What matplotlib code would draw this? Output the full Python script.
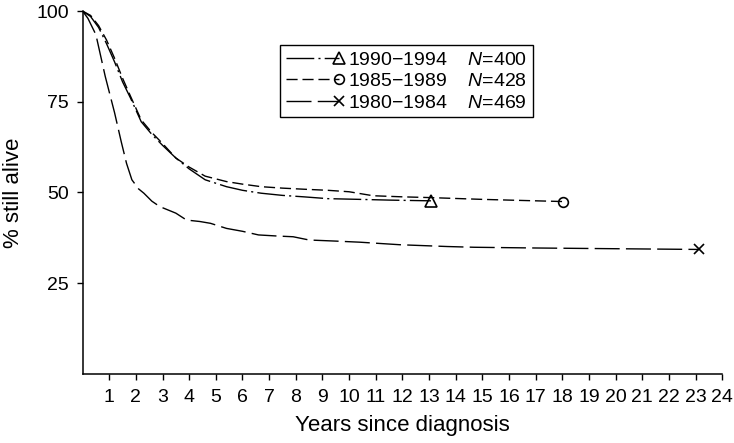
import matplotlib
matplotlib.use("Agg")
import matplotlib.pyplot as plt
from matplotlib.lines import Line2D
from matplotlib.legend_handler import HandlerLine2D

plt.rcParams['font.family'] = ['Liberation Sans', 'DejaVu Sans']
plt.rcParams['mathtext.fontset'] = 'custom'
plt.rcParams['mathtext.rm'] = 'Liberation Sans'
plt.rcParams['mathtext.it'] = 'Liberation Sans:italic'

# survival curves (years, % still alive)
t_9094 = [0, 0.3, 0.6, 0.9, 1.2, 1.5, 1.8, 2.2, 2.6, 3.0, 3.5, 4.0, 4.6, 5.4,
          6.0, 6.7, 7.5, 8.3, 9.2, 10.4, 11.5, 13.07]
v_9094 = [100, 98.5, 95.5, 91, 86, 80.5, 76, 69.5, 66, 63, 59.5, 56.5, 53.5, 51.6,
          50.6, 49.8, 49.2, 48.8, 48.3, 48.1, 47.9, 47.7]

t_8589 = [0, 0.3, 0.6, 0.9, 1.2, 1.5, 1.8, 2.2, 2.6, 3.0, 3.5, 4.0, 4.6, 5.4,
          6.0, 6.7, 7.5, 8.3, 9.2, 10.0, 10.9, 12.0, 13.0, 15.0, 16.5, 18.04]
v_8589 = [100, 98.8, 96, 92, 87, 81.5, 76.5, 70, 66.5, 63.5, 59.5, 57, 54.5, 53,
          52.3, 51.6, 51.2, 50.9, 50.6, 50.2, 49.1, 48.8, 48.6, 48.1, 47.8, 47.5]

t_8084 = [0, 0.2, 0.5, 0.85, 1.2, 1.45, 1.65, 1.85, 2.1, 2.3, 2.6, 2.9, 3.5, 3.9,
          4.4, 4.8, 5.4, 6.0, 6.6, 7.3, 7.9, 8.5, 9.5, 10.4, 11.9, 13.7, 14.7,
          17, 20, 23.11]
v_8084 = [100, 98, 93.5, 82, 72, 64, 58, 53.5, 51, 49.8, 47.6, 46.1, 44.3, 42.4,
          42, 41.5, 40.1, 39.3, 38.3, 38, 37.8, 36.9, 36.6, 36.3, 35.6, 35.1, 34.9,
          34.7, 34.5, 34.3]

periods = ['1990\u22121994', '1985\u22121989', '1980\u22121984']
counts = [400, 428, 469]


class EndMarkerHandler(HandlerLine2D):
    # line across the handle, marker only at its right end
    def create_artists(self, legend, orig_handle, xdescent, ydescent,
                       width, height, fontsize, trans):
        y = height / 2 - ydescent
        line = Line2D([-xdescent, width - xdescent], [y, y])
        line.update_from(orig_handle)
        line.set_marker('None')
        line.set_markevery(None)
        mark = Line2D([width - xdescent], [y])
        mark.update_from(orig_handle)
        mark.set_linestyle('None')
        mark.set_markevery(None)
        line.set_transform(trans)
        mark.set_transform(trans)
        return [line, mark]


fig = plt.figure(figsize=(7.34, 4.43), dpi=100)
ax = fig.add_axes([0.1125, 0.156, 0.8715, 0.819])

styles = [
    (t_9094, v_9094, '^', (20, 3, 1.5, 3), 9),
    (t_8589, v_8589, 'o', (8, 3.5), 7),
    (t_8084, v_8084, 'x', (18, 4.5), 7),
]
handles = []
for (t, v, m, dash, ms), p, n in zip(styles, periods, counts):
    ln, = ax.plot(t, v, color='black', lw=1.0, dashes=dash, marker=m,
                  markevery=[-1], ms=ms, mfc='none', mec='black', mew=1.2,
                  label=f'{p}    $N$={n}')
    handles.append(ln)

ax.set_xlim(0, 24)
ax.set_ylim(0, 100)
ax.set_xticks(range(1, 25))
ax.set_yticks([25, 50, 75, 100])
ax.tick_params(labelsize=14, length=4, width=1, color='black', direction='out')
ax.tick_params(axis='x', pad=7)
ax.tick_params(axis='y', pad=6)
ax.spines['top'].set_visible(False)
ax.spines['right'].set_visible(False)
ax.spines['left'].set_linewidth(1.1)
ax.spines['bottom'].set_linewidth(1.1)
ax.set_xlabel('Years since diagnosis', fontsize=16, labelpad=6)
ax.set_ylabel('% still alive', fontsize=16, labelpad=9)

leg = ax.legend(handles=handles, loc='upper left', bbox_to_anchor=(0.309, 0.906),
                borderaxespad=0, fontsize=14, handlelength=2.7, handletextpad=0.5,
                labelspacing=0.2, borderpad=0.3, fancybox=False, framealpha=1,
                edgecolor='black', handler_map={Line2D: EndMarkerHandler()})
leg.get_frame().set_linewidth(1.0)

fig.savefig('out.png', dpi=100)
